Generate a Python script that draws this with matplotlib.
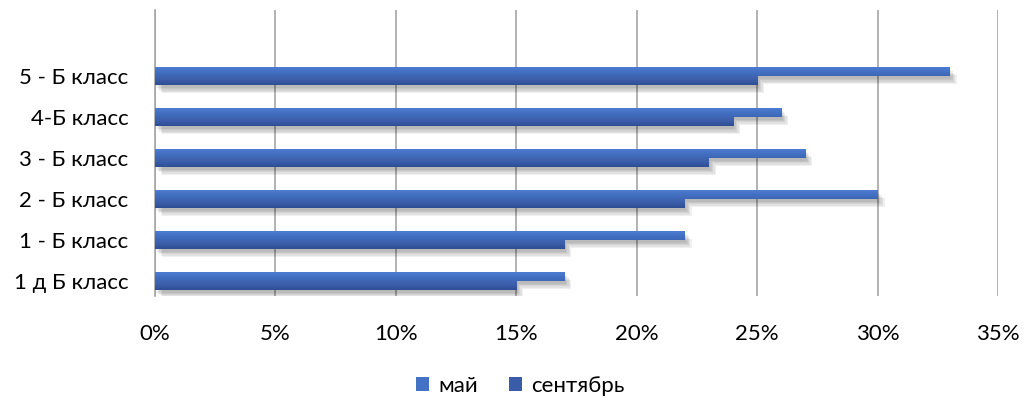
import matplotlib
matplotlib.use("Agg")
import matplotlib.pyplot as plt
import numpy as np
from matplotlib import patheffects as pe
from matplotlib.patches import Patch

categories = ["1 д Б класс", "1 - Б класс", "2 - Б класс", "3 - Б класс", "4-Б класс", "5 - Б класс"]
may = [17, 22, 30, 27, 26, 33]
september = [15, 17, 22, 23, 24, 25]
xticks = [0, 5, 10, 15, 20, 25, 30, 35]

plt.rcParams['font.family'] = ['Lato', 'DejaVu Sans']

fig = plt.figure(figsize=(10.27, 4.0), dpi=100)
ax = fig.add_axes([155/1027, 1-296/400, (998-155)/1027, (296-10)/400])

y = np.arange(len(categories))
h = 0.22
c_may = "#4472C4"
c_sep = "#3A5DA9"

shadow = [pe.SimplePatchShadow(offset=(o, -o - 1), shadow_rgbFace="#000000", alpha=0.06)
          for o in (1, 2, 3, 4, 5)] + [pe.Normal()]
b1 = ax.barh(y + h/2, may, height=h, color=c_may, zorder=3, path_effects=shadow)
b2 = ax.barh(y - h/2, september, height=h, color=c_sep, zorder=3, path_effects=shadow)

def gradient(bars, top, mid, bot):
    from matplotlib.colors import LinearSegmentedColormap
    cmap = LinearSegmentedColormap.from_list("g", [bot, mid, top])
    grad = np.linspace(0, 1, 64).reshape(-1, 1)
    for b in bars:
        x0, y0 = b.get_x(), b.get_y()
        w, hh = b.get_width(), b.get_height()
        im = ax.imshow(grad, cmap=cmap, aspect='auto', origin='lower',
                       extent=[x0, x0 + w, y0, y0 + hh], zorder=4)
        im.set_clip_path(b)

gradient(b1, "#4E7ED6", "#4472C4", "#3C67B5")
gradient(b2, "#4467B4", "#3A5DA9", "#2E4E93")

ax.set_xlim(0, 35)
ax.set_ylim(-0.37, 6.61)
ax.set_xticks(xticks)
ax.set_xticklabels([f"{t}%" for t in xticks])
ax.set_yticks(y)
ax.set_yticklabels(categories)
ax.grid(axis='x', color="#A6A6A6", linewidth=1.2, zorder=0)
ax.set_axisbelow(True)
for s in ['top', 'right', 'bottom']:
    ax.spines[s].set_visible(False)
ax.spines['left'].set_color("#A6A6A6")
ax.spines['left'].set_linewidth(1.2)
ax.tick_params(axis='both', length=0, labelsize=16, colors="#000000")
ax.tick_params(axis='x', pad=20)
ax.tick_params(axis='y', pad=19)

handles = [Patch(facecolor=c_may, label="май"), Patch(facecolor=c_sep, label="сентябрь")]
fig.legend(handles=handles, loc='center', bbox_to_anchor=(520/1027, 1-386/400), ncol=2,
           frameon=False, fontsize=16, handlelength=0.6, handleheight=0.6,
           handletextpad=0.4, columnspacing=1.4)

fig.savefig("out.png", dpi=100)
